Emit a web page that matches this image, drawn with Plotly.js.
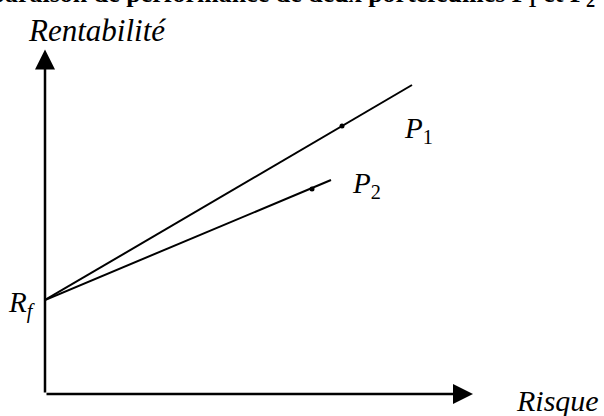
<!DOCTYPE html>
<html>
<head>
<meta charset="utf-8">
<script src="https://cdn.plot.ly/plotly-3.0.1.min.js"></script>
<style>
  html, body { margin: 0; padding: 0; background: #fff; }
  #chart { width: 604px; height: 416px; }
</style>
</head>
<body>
<div id="chart"></div>
<script>
// Comparaison de performance de deux portefeuilles (droites de marché depuis Rf)
// unités arbitraires : risque en x, rentabilité en y

const rf = 9.4;                      // taux sans risque
const portfolios = ['1', '2'];       // indices des portefeuilles
const riskPoint = [29.7, 26.7];      // risque de P1, P2
const returnPoint = [26.8, 20.5];    // rentabilité de P1, P2
const riskLineEnd = [36.7, 28.6];    // fin des droites
const returnLineEnd = [30.9, 21.4];

const riskAxisMax = 42.8;            // bout des flèches des axes
const returnAxisMax = 34.45;

const serif = 'Liberation Serif, Times New Roman, serif';

var traces = [];
for (var i = 0; i < portfolios.length; i++) {
    traces.push({
        x: [0, riskLineEnd[i]],
        y: [rf, returnLineEnd[i]],
        type: 'scatter',
        mode: 'lines',
        line: {color: '#000', width: 2},
        hoverinfo: 'skip'
    });
}
traces.push({
    x: riskPoint,
    y: returnPoint,
    type: 'scatter',
    mode: 'markers',
    marker: {color: '#000', size: 5},
    hoverinfo: 'skip'
});

var annotations = [
    // axes with arrows
    {x: riskAxisMax, y: 0, ax: 0, ay: 0, xref: 'x', yref: 'y', axref: 'x', ayref: 'y',
     text: '', showarrow: true, arrowhead: 2, arrowwidth: 2.5, arrowsize: 1.6, arrowcolor: '#000'},
    {x: 0, y: returnAxisMax, ax: 0, ay: 0, xref: 'x', yref: 'y', axref: 'x', ayref: 'y',
     text: '', showarrow: true, arrowhead: 2, arrowwidth: 2.5, arrowsize: 1.6, arrowcolor: '#000'},
    // labels
    {x: 0, y: rf, xref: 'x', yref: 'y', xanchor: 'right', yanchor: 'middle', xshift: -8, yshift: -4,
     text: '<i>R</i><sub><i>f</i></sub>', showarrow: false, font: {family: serif, size: 29, color: '#000'}},
    {x: 0.118, y: 1.07, xref: 'paper', yref: 'paper', xanchor: 'center', yanchor: 'middle',
     text: '<i>Rentabilité</i>', showarrow: false, font: {family: serif, size: 31, color: '#000'}},
    {x: 1.2636, y: -0.018, xref: 'paper', yref: 'paper', xanchor: 'right', yanchor: 'middle',
     text: '<i>Risque</i>', showarrow: false, font: {family: serif, size: 30, color: '#000'}},
    {x: 1.2545, y: 1.12, xref: 'paper', yref: 'paper', xanchor: 'right', yanchor: 'bottom',
     text: '<b>Comparaison de performance de deux portefeuilles P<sub>1</sub> et P<sub>2</sub></b>',
     showarrow: false, font: {family: serif, size: 26, color: '#000'}}
];
for (var j = 0; j < portfolios.length; j++) {
    annotations.push({
        x: riskPoint[j], y: returnPoint[j], xref: 'x', yref: 'y',
        xanchor: 'left', yanchor: 'middle', xshift: j === 0 ? 60 : 38, yshift: j === 0 ? -4 : 4,
        text: '<i>P</i><sub>' + portfolios[j] + '</sub>', showarrow: false,
        font: {family: serif, size: 29, color: '#000'}
    });
}

var layout = {
    width: 604,
    height: 416,
    margin: {l: 45, r: 119, t: 54, b: 22},
    paper_bgcolor: '#fff',
    plot_bgcolor: '#fff',
    showlegend: false,
    xaxis: {range: [0, 44], visible: false, fixedrange: true},
    yaxis: {range: [0, 34], visible: false, fixedrange: true},
    annotations: annotations
};

Plotly.newPlot('chart', traces, layout, {displayModeBar: false, staticPlot: true});
</script>
</body>
</html>
